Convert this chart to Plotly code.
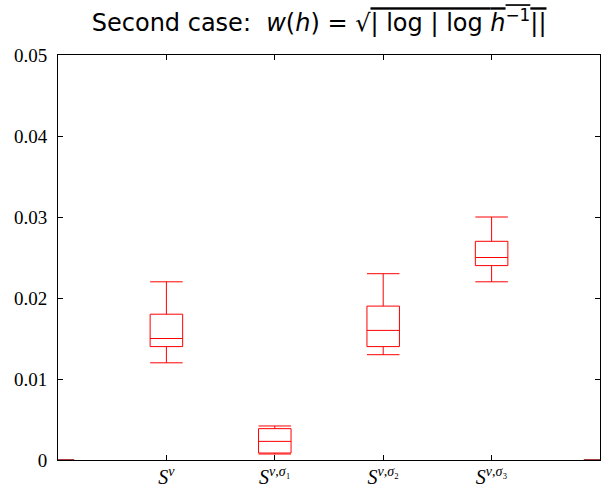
import plotly.graph_objects as go

categories = [0, 1, 2, 3, 4, 5]
tick_labels = ["", "<i>S</i><sup><i>ν</i></sup>", "<i>S</i><sup><i>ν</i>,<i>σ</i>₁</sup>",
               "<i>S</i><sup><i>ν</i>,<i>σ</i>₂</sup>", "<i>S</i><sup><i>ν</i>,<i>σ</i>₃</sup>", ""]
lower = [0.0, 0.0120, 0.00074, 0.0130, 0.0220, 0.0]
q1 = [0.0, 0.0140, 0.00086, 0.0140, 0.0240, 0.0]
median = [0.0, 0.0150, 0.0023, 0.0160, 0.0250, 0.0]
q3 = [0.0, 0.0180, 0.00387, 0.0190, 0.0270, 0.0]
upper = [0.0, 0.0220, 0.0042, 0.0230, 0.0300, 0.0]
colors = ["#8b0000", "red", "red", "red", "red", "#8b0000"]

fig = go.Figure()
for i, x in enumerate(categories):
    fig.add_trace(go.Box(
        x=[x], q1=[q1[i]], median=[median[i]], q3=[q3[i]],
        lowerfence=[lower[i]], upperfence=[upper[i]],
        width=0.3, whiskerwidth=1,
        line=dict(color=colors[i], width=1.5 if i in (0, 5) else 1),
        fillcolor="rgba(0,0,0,0)", boxpoints=False, showlegend=False,
        hoverinfo="skip",
    ))

fig.update_layout(
    width=601, height=487,
    margin=dict(l=58, r=1, t=55, b=27),
    paper_bgcolor="white", plot_bgcolor="white",
    title=dict(
        text='Second case:  <i>w</i>(<i>h</i>) = √<span style="text-decoration:overline">| log | log <i>h</i><sup>−1</sup>||</span>',
        xref="container", x=0.531, xanchor="center", y=0.953, yanchor="middle",
        font=dict(family="DejaVu Sans", size=24, color="black"),
    ),
    xaxis=dict(
        range=[0, 5], tickvals=categories, ticktext=tick_labels, automargin=False,
        showline=True, linecolor="black", linewidth=1, mirror="ticks",
        ticks="inside", ticklen=5, tickcolor="black", showgrid=False, zeroline=False,
        ticklabelstandoff=-1, layer="below traces",
        tickfont=dict(family="Liberation Serif", size=20, color="black"),
    ),
    yaxis=dict(
        range=[0, 0.05], tickvals=[0, 0.01, 0.02, 0.03, 0.04, 0.05],
        ticktext=["0", "0.01", "0.02", "0.03", "0.04", "0.05"], automargin=False,
        showline=True, linecolor="black", linewidth=1, mirror="ticks",
        ticks="inside", ticklen=5, tickcolor="black", showgrid=False, zeroline=False,
        ticklabelstandoff=6,
        tickfont=dict(family="Liberation Serif", size=19, color="black"),
    ),
)
fig.write_html("out.html")
